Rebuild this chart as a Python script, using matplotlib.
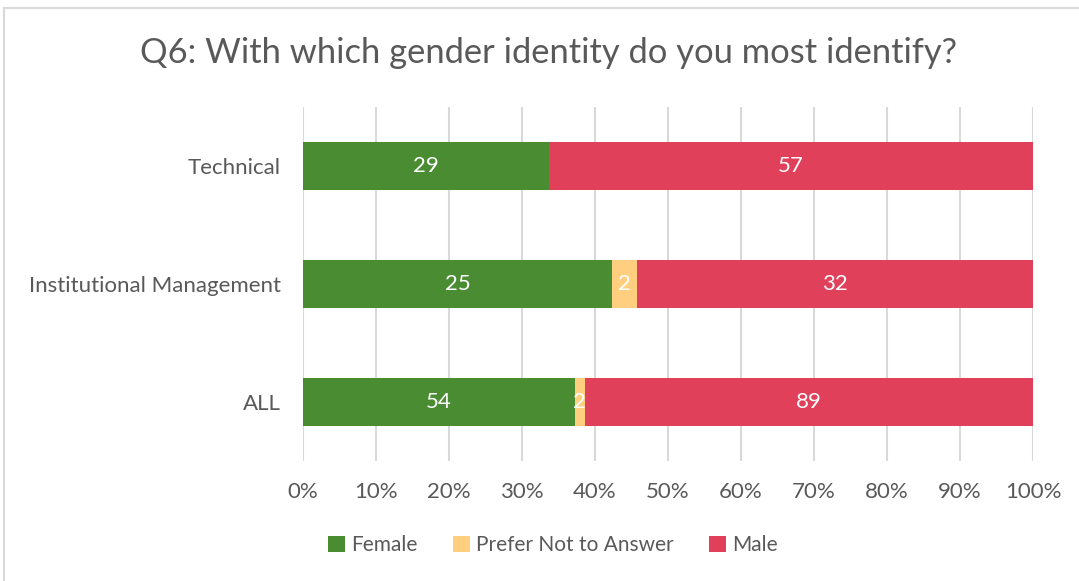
import matplotlib
matplotlib.use("Agg")
import matplotlib.pyplot as plt
from matplotlib.patches import Rectangle
import numpy as np

categories = ["ALL", "Institutional Management", "Technical"]
female = [54, 25, 29]
prefer_not = [2, 2, 0]
male = [89, 32, 57]
series_names = ["Female", "Prefer Not to Answer", "Male"]
colors = ["#4A8C32", "#FFCF7F", "#E0405A"]
xtick_labels = [f"{v}%" for v in range(0, 101, 10)]

plt.rcParams['font.family'] = ['Lato', 'DejaVu Sans']
text_color = "#595959"

fig = plt.figure(figsize=(10.79, 5.81), dpi=100)
ax = fig.add_axes([303/1079, 1-461/581, (1033-303)/1079, (461-107)/581])

data = np.array([female, prefer_not, male], dtype=float)
totals = data.sum(axis=0)
pct = data / totals * 100
y = np.arange(len(categories))
left = np.zeros(len(categories))
for i, name in enumerate(series_names):
    bars = ax.barh(y, pct[i], left=left, height=0.4, color=colors[i], label=name, zorder=3)
    for j, b in enumerate(bars):
        if data[i, j] > 0:
            ax.text(left[j] + pct[i, j] / 2, y[j], f"{int(data[i, j])}", ha="center", va="center",
                    color="white", fontsize=16, zorder=4)
    left += pct[i]

ax.set_xlim(0, 100)
ax.set_ylim(-0.5, 2.5)
ax.set_xticks(np.arange(0, 101, 10))
ax.set_xticklabels(xtick_labels)
ax.set_yticks(y)
ax.set_yticklabels(categories)
ax.tick_params(axis="both", length=0, labelsize=16, colors=text_color)
ax.tick_params(axis="x", pad=15)
ax.tick_params(axis="y", pad=16)
ax.grid(axis="x", color="#D9D9D9", linewidth=1.5, zorder=0)
for s in ax.spines.values():
    s.set_visible(False)

fig.text(549/1079, 1-53/581, "Q6: With which gender identity do you most identify?", ha="center", va="center",
         fontsize=24.8, color=text_color)

leg = fig.legend(loc="center", bbox_to_anchor=(553/1079, 1-545/581), ncol=3, frameon=False,
                 fontsize=15, handlelength=0.8, handleheight=0.8, handletextpad=0.3, columnspacing=1.7)
for t in leg.get_texts():
    t.set_color(text_color)

# chart border
fig.add_artist(Rectangle((4/1079, -0.1), 1.2, 1-8/581+0.1, transform=fig.transFigure,
                         fill=False, edgecolor="#D9D9D9", linewidth=1.5))

fig.savefig("out.png", dpi=100)
